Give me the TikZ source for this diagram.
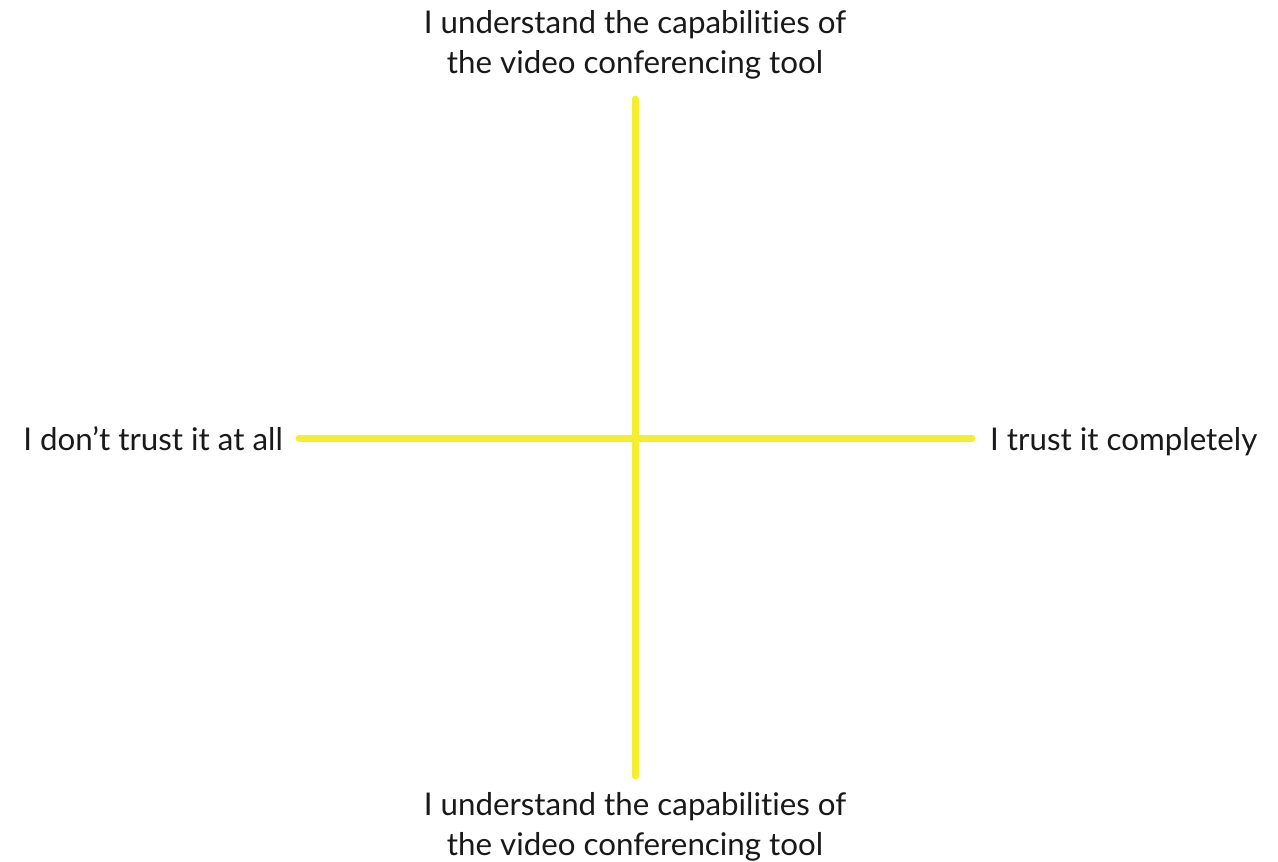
\documentclass[tikz,border=0pt]{standalone}
\usepackage{fontspec}
\setmainfont{Lato}[Ligatures={NoCommon}]
\definecolor{axisyellow}{RGB}{245,238,48}
\definecolor{labeltext}{RGB}{25,25,25}
\begin{document}
\begin{tikzpicture}[x=1pt,y=-1pt,
  axis/.style={draw=axisyellow,line width=7pt,line cap=round},
  lbl/.style={text=labeltext,font=\fontsize{31.3}{40}\selectfont,inner sep=0pt,align=center}]
\useasboundingbox (0,0) rectangle (1278,862);
\coordinate (T) at (635,99);
\coordinate (B) at (635,776);
\coordinate (L) at (299,438);
\coordinate (R) at (972,438);
\draw[axis] (T) -- (B);
\draw[axis] (L) -- (R);
\node[lbl,anchor=center] (top) at (635,45) {I understand the capabilities of\\the video conferencing tool};
\node[lbl,anchor=center] (bot) at (635,827) {I understand the capabilities of\\the video conferencing tool};
\node[lbl,anchor=base east] (left) at (283,450) {I don’t trust it at all};
\node[lbl,anchor=base west] (right) at (990,450) {I trust it completely};
\end{tikzpicture}
\end{document}
